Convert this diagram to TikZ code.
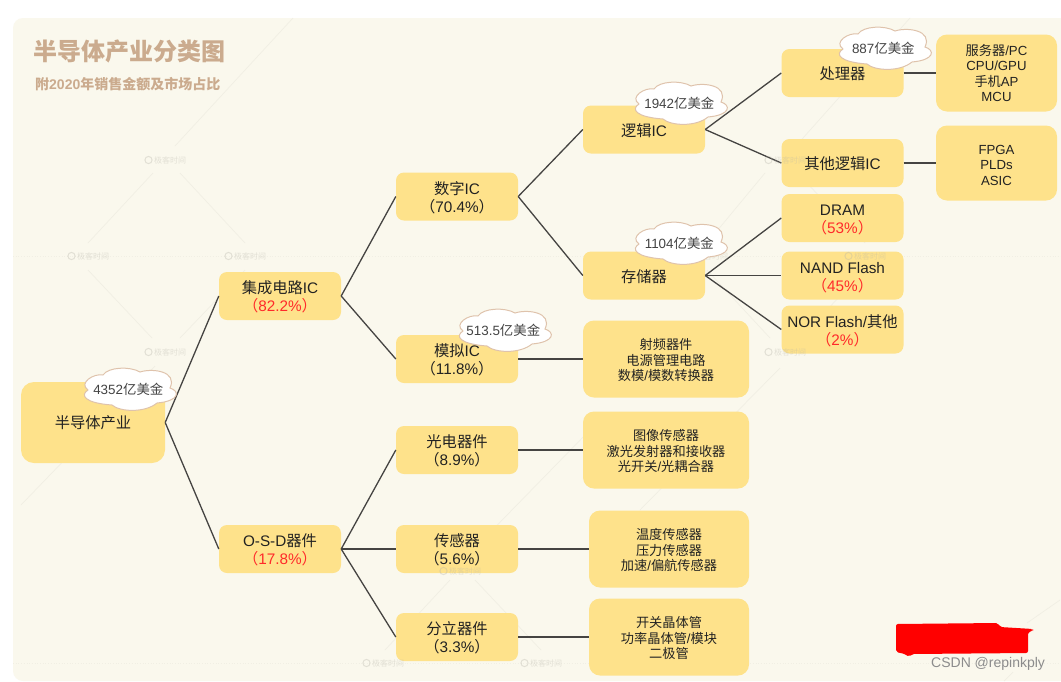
\documentclass[tikz,border=0pt]{standalone}
\usepackage{fontspec}
\setmainfont{Liberation Sans}
\newfontfamily\cjk{Noto Sans CJK SC}
\newcommand{\zh}[1]{{\cjk #1}}
\definecolor{panelc}{HTML}{FAF8ED}
\definecolor{boxc}{HTML}{FEE28B}
\definecolor{titlec}{HTML}{CBAB8E}
\definecolor{linkc}{HTML}{454442}
\definecolor{cloudc}{HTML}{DFC3AC}
\definecolor{wmc}{HTML}{B5B3A8}
\definecolor{wmlc}{HTML}{F1EFE4}
\definecolor{inkc}{HTML}{222222}
\definecolor{redc}{HTML}{FF2A2A}
\tikzset{
  x=1pt,y=-1pt,
  panelbox/.style={fill=panelc,rounded corners=10pt},
  boxbase/.style={fill=boxc,rounded corners=8pt,text=inkc,align=center,inner sep=0pt,
    minimum width=122pt,minimum height=48pt,font=\fontsize{15.3}{18}\selectfont},
  box/.style={boxbase,execute at begin node={\rule{0pt}{33pt}}},
  onebox/.style={boxbase,execute at begin node={\rule{0pt}{14.5pt}}},
  rootbox/.style={boxbase,minimum width=144pt,minimum height=81pt,rounded corners=13pt},
  listbase/.style={boxbase,minimum height=77pt,rounded corners=11pt,font=\fontsize{13.2}{15.5}\selectfont},
  listbox/.style={listbase,execute at begin node={\rule{0pt}{45pt}}},
  link/.style={draw=linkc,line width=1.3pt},
  cloudline/.style={draw=cloudc,line width=1pt,fill=white},
  cloudtag/.style={text=inkc!85,inner sep=0pt,font=\fontsize{13.4}{15}\selectfont},
  wm/.style={text=wmc,text opacity=.35,font=\fontsize{8}{8}\selectfont,inner sep=0pt},
  wmline/.style={draw=wmlc,line width=0.7pt},
  wmdot/.style={draw=wmlc,line width=0.7pt,dotted},
  titletext/.style={text=titlec,anchor=west,inner sep=0pt},
}
\newcommand{\red}[1]{\textcolor{redc}{#1}}
% one cloud: name, x, y, text
\newcommand{\cloudat}[4]{%
  \draw[cloudline,shift={(#2,#3)}] (-42,1) .. controls (-52,-6) and (-36,-16) .. (-27,-14)
    .. controls (-22,-22) and (0,-23) .. (10,-17)
    .. controls (22,-21) and (48,-18) .. (40,-1)
    .. controls (50,2) and (50,12) .. (27,14)
    .. controls (15,24) and (-10,23) .. (-18,16)
    .. controls (-46,14) and (-50,6) .. cycle;
  \node[cloudtag] (#1) at (#2-1.7,#3) {#4};
}
\begin{document}
\begin{tikzpicture}
\useasboundingbox (0,0) rectangle (1061,681);
\fill[white] (0,0) rectangle (1061,681);
\fill[panelbox] (13,18) rectangle (1071,681);
% watermark lattice
\foreach \a/\b/\c/\d in {175/146/293/18,153/173/88/243,180/173/245/243,88/270/152/338,245/270/180/338,155/366/21/505,
  795/147/910/18,765/173/707/243,797/173/865/243,707/270/770/338,865/270/800/338,780/368/640/510,
  450/580/385/650,475/580/541/650,470/553/590/430,1060/600/1027/623,1013/672/1004/681}
  {\draw[wmline] (\a,\b) -- (\c,\d);}
\draw[wmdot] (13,256) -- (1061,256);
\draw[wmdot] (13,663) -- (1061,663);
% title
\node[titletext,font=\fontsize{24}{26}\selectfont\bfseries] (title) at (33,51) {\zh{半导体产业分类图}};
\node[titletext,font=\fontsize{14}{15}\selectfont\bfseries] (subtitle) at (35,84) {\zh{附}2020\zh{年销售金额及市场占比}};
% boxes
\node[rootbox] (root) at (93,422.5) {\zh{半导体产业}};
\node[box] (ic) at (280,296) {\zh{集成电路}IC\\\red{\zh{（}82.2\%\zh{）}}};
\node[box] (osd) at (280,549) {O-S-D\zh{器件}\\\red{\zh{（}17.8\%\zh{）}}};
\node[box] (dig) at (457,196.5) {\zh{数字}IC\\\zh{（}70.4\%\zh{）}};
\node[box] (ana) at (457,359) {\zh{模拟}IC\\\zh{（}11.8\%\zh{）}};
\node[box] (opt) at (457,450) {\zh{光电器件}\\\zh{（}8.9\%\zh{）}};
\node[box] (sen) at (457,549) {\zh{传感器}\\\zh{（}5.6\%\zh{）}};
\node[box] (dis) at (457,637) {\zh{分立器件}\\\zh{（}3.3\%\zh{）}};
\node[onebox] (log) at (644,129.5) {\zh{逻辑}IC};
\node[onebox] (mem) at (644,275.5) {\zh{存储器}};
\node[listbox,minimum width=166pt] (l1) at (666,359) {\zh{射频器件}\\\zh{电源管理电路}\\\zh{数模}/\zh{模数转换器}};
\node[listbox,minimum width=166pt] (l2) at (666,450) {\zh{图像传感器}\\\zh{激光发射器和接收器}\\\zh{光开关}/\zh{光耦合器}};
\node[listbox,minimum width=160pt] (l3) at (669,549) {\zh{温度传感器}\\\zh{压力传感器}\\\zh{加速}/\zh{偏航传感器}};
\node[listbox,minimum width=160pt] (l4) at (669,637) {\zh{开关晶体管}\\\zh{功率晶体管}/\zh{模块}\\\zh{二极管}};
\node[onebox] (cpu) at (842.5,73) {\zh{处理器}};
\node[onebox] (oth) at (842.5,163) {\zh{其他逻辑}IC};
\node[box] (dram) at (842.5,218) {DRAM\\\red{\zh{（}53\%\zh{）}}};
\node[box] (nand) at (842.5,275.5) {NAND Flash\\\red{\zh{（}45\%\zh{）}}};
\node[box] (nor) at (842.5,329.5) {NOR Flash/\zh{其他}\\\red{\zh{（}2\%\zh{）}}};
\node[listbase,minimum width=121pt] (l5) at (996.5,73) {\zh{服务器}/PC\\CPU/GPU\\\zh{手机}AP\\MCU};
\node[listbox,minimum width=121pt,minimum height=75pt] (l6) at (996.5,163) {FPGA\\PLDs\\ASIC};
% links
\foreach \p/\q in {root/ic,root/osd,ic/dig,ic/ana,osd/opt,osd/sen,osd/dis,dig/log,dig/mem,log/cpu,log/oth,
  mem/dram,mem/nand,mem/nor,ana/l1,opt/l2,sen/l3,dis/l4,cpu/l5,oth/l6}
  {\draw[link] (\p.east) -- (\q.west);}
% watermarks
\foreach \n/\u/\v in {a/165/160,b/88/256,c/245/256,d/165/352,e/785/160,f/707/256,g/865/256,h/785/352,i/460/571,j/383/663,k/541/663}{
  \node[wm] (wm\n) at (\u+5,\v) {\zh{极客时间}};
  \draw[draw=wmc,draw opacity=.35,line width=1pt] (\u-16.5,\v) circle (3.6pt);
}
% clouds
\cloudat{c1}{130}{389}{4352\zh{亿美金}}
\cloudat{c2}{505}{330}{513.5\zh{亿美金}}
\cloudat{c3}{681}{103}{1942\zh{亿美金}}
\cloudat{c4}{681}{243}{1104\zh{亿美金}}
\cloudat{c5}{885}{48}{887\zh{亿美金}}
% redaction and credit
\fill[red,rounded corners=2pt] (896,624) -- (998,623) -- (1000,627) -- (1033,629) -- (1033,631) -- (1028,632) -- (1028,653) -- (912,654) -- (909,657) -- (905,654) -- (896,652) -- cycle;
\node[text=black!45,inner sep=0pt,anchor=west,font=\fontsize{14}{15}\selectfont] (csdn) at (931,664) {CSDN @repinkply};
\end{tikzpicture}
\end{document}
